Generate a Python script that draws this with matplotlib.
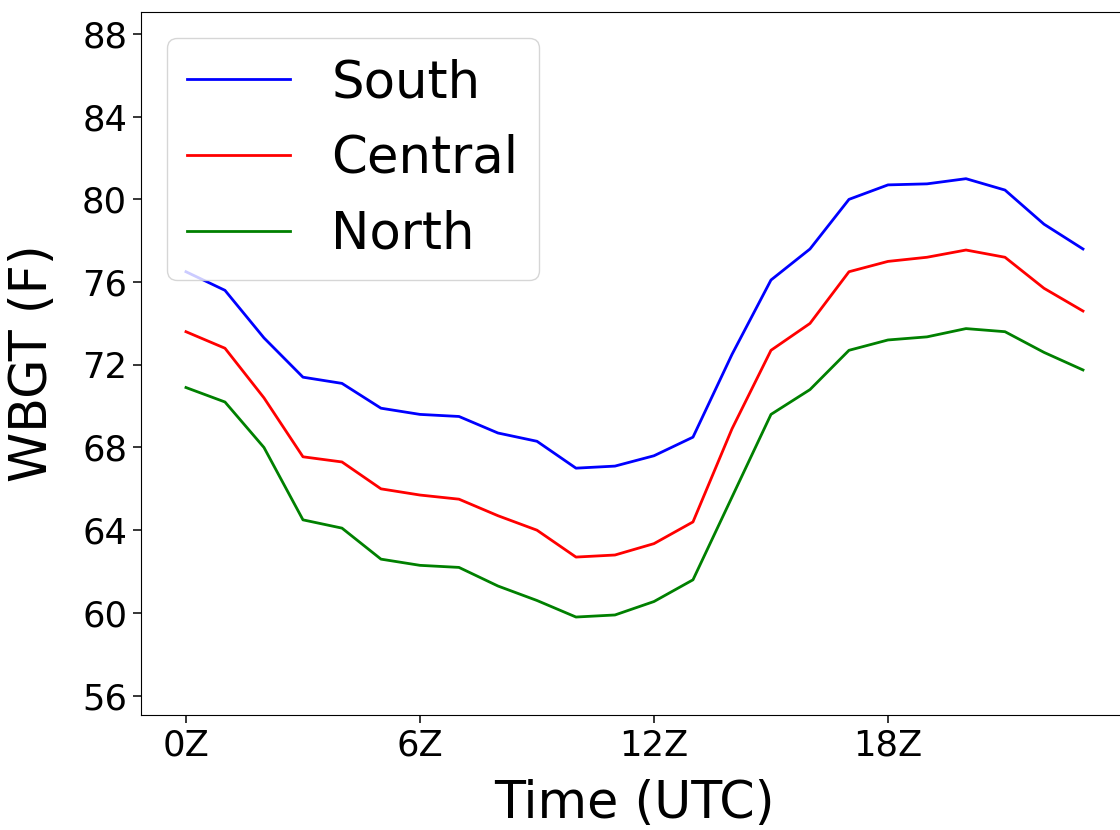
import numpy as np
import matplotlib
matplotlib.use("Agg")
import matplotlib.pyplot as plt

hours = list(range(24))
tick_hours = [0, 6, 12, 18]
tick_labels = ["0Z", "6Z", "12Z", "18Z"]

south = [76.5, 75.6, 73.3, 71.4, 71.1, 69.9, 69.6, 69.5, 68.7, 68.3, 67.0, 67.1,
         67.6, 68.5, 72.5, 76.1, 77.6, 80.0, 80.7, 80.75, 81.0, 80.45, 78.8, 77.6]
central = [73.6, 72.8, 70.4, 67.55, 67.3, 66.0, 65.7, 65.5, 64.7, 64.0, 62.7, 62.8,
           63.35, 64.4, 68.9, 72.7, 74.0, 76.5, 77.0, 77.2, 77.55, 77.2, 75.7, 74.6]
north = [70.9, 70.2, 68.0, 64.5, 64.1, 62.6, 62.3, 62.2, 61.3, 60.6, 59.8, 59.9,
         60.55, 61.6, 65.6, 69.6, 70.8, 72.7, 73.2, 73.35, 73.75, 73.6, 72.6, 71.75]

fig = plt.figure(figsize=(11.2, 8.3), dpi=100)
# right spine falls just outside the picture, as in the original
ax = fig.add_axes([0.126, 0.139, 0.881, 0.8465])

ax.plot(hours, south, color="blue", lw=2, label="South")
ax.plot(hours, central, color="red", lw=2, label="Central")
ax.plot(hours, north, color="green", lw=2, label="North")

ax.set_xticks(tick_hours)
ax.set_xticklabels(tick_labels)
ax.set_xlim(-1.15, 24.15)
ax.set_yticks(np.arange(56, 89, 4))
ax.set_ylim(55.08, 89.06)
ax.tick_params(labelsize=25.5, length=6, width=1.1, pad=4)
ax.set_xlabel("Time (UTC)", fontsize=36.5, labelpad=12)
ax.set_ylabel("WBGT (F)", fontsize=36.5, labelpad=17)
ax.legend(loc="upper left", fontsize=37)

fig.savefig("out.png", dpi=100)
